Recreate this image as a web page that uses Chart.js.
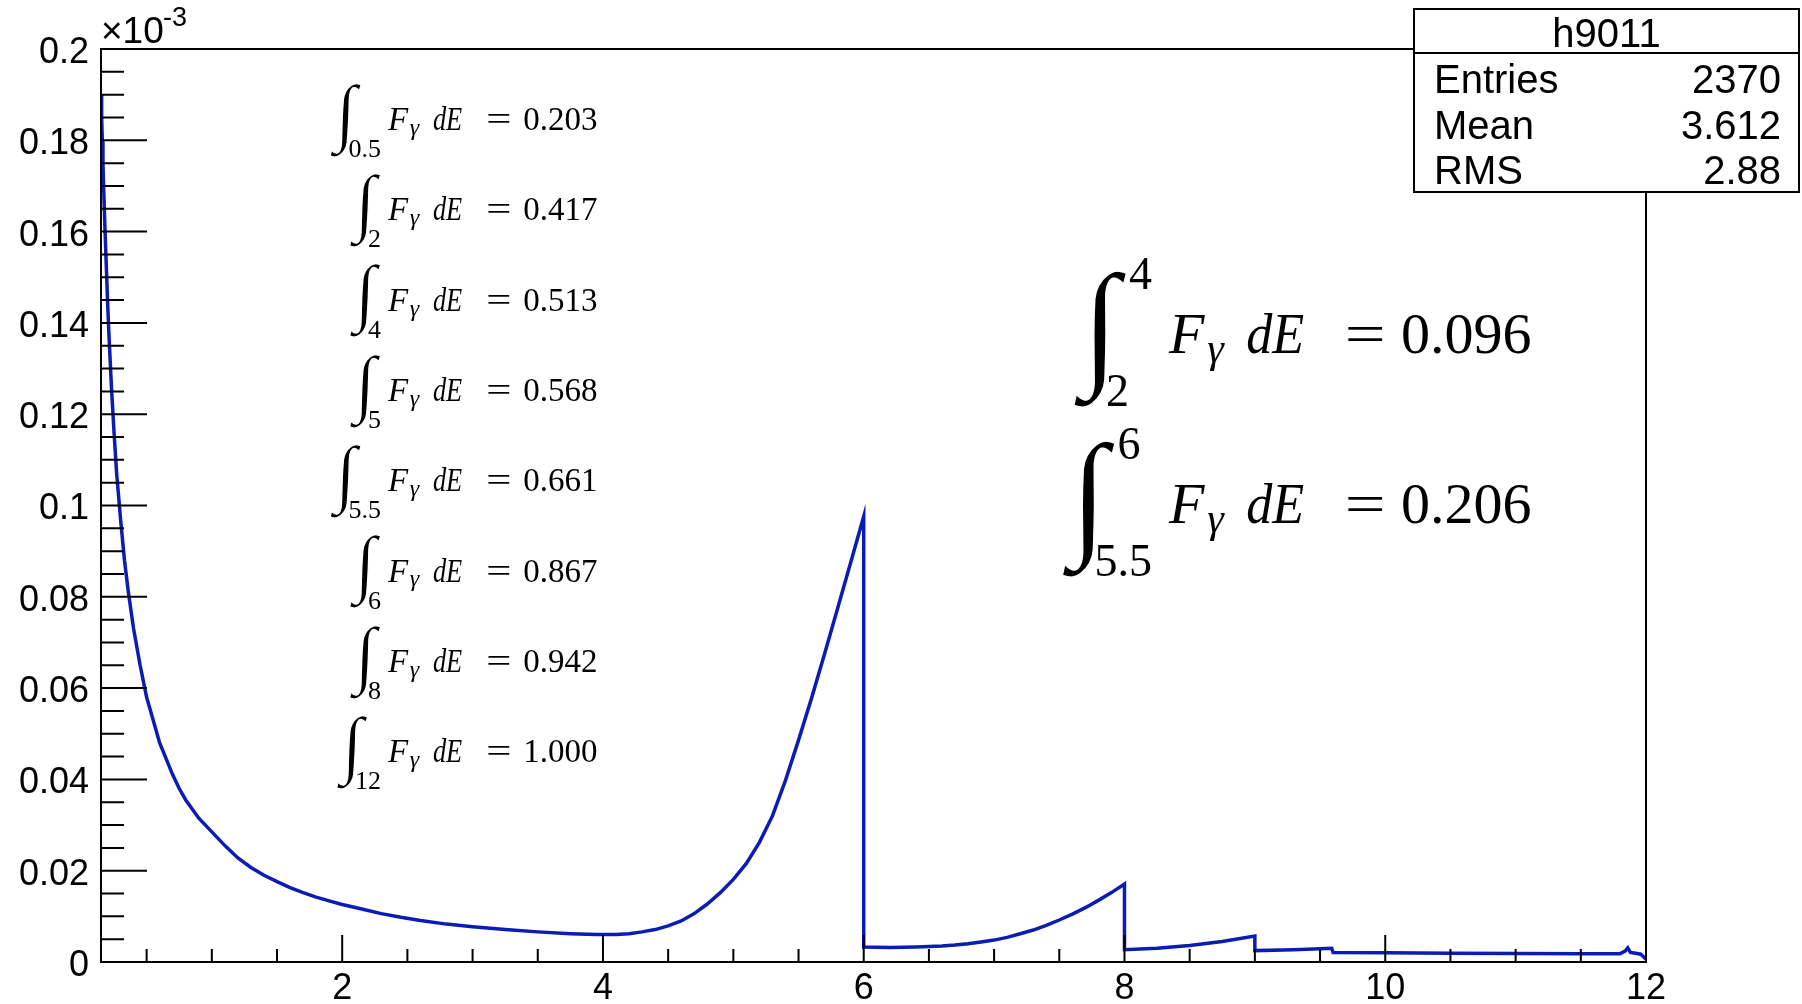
<!DOCTYPE html>
<html>
<head>
<meta charset="utf-8">
<title>h9011</title>
<script src="https://cdn.jsdelivr.net/npm/chart.js@4.4.1/dist/chart.umd.min.js"></script>
<style>
  html, body { margin: 0; padding: 0; background: #fff; }
  #wrap { width: 1802px; height: 1004px; }
</style>
</head>
<body>
<div id="wrap"><canvas id="spectrum" width="1802" height="1004"></canvas></div>
<script>
// photon spectrum h9011, flux in units of 1e-3
const energy = [0.15, 0.155, 0.16, 0.165, 0.17, 0.18, 0.19, 0.2, 0.21, 0.22, 0.23, 0.25, 0.27,
  0.3, 0.33, 0.36, 0.4, 0.45, 0.5, 0.55, 0.6, 0.65, 0.7, 0.75, 0.8, 0.9, 1.0, 1.1, 1.2, 1.3,
  1.4, 1.5, 1.6, 1.7, 1.8, 1.9, 2.0, 2.15, 2.3, 2.45, 2.6, 2.8, 3.0, 3.25, 3.5, 3.75, 3.95,
  4.1, 4.2, 4.3, 4.4, 4.5, 4.6, 4.7, 4.8, 4.9, 5.0, 5.1, 5.2, 5.3, 5.4, 5.5, 5.6, 5.7, 5.8, 5.9, 6.0,
  6.0, 6.2, 6.4, 6.6, 6.7, 6.8, 6.9, 7.0, 7.1, 7.2, 7.3, 7.4, 7.5, 7.6, 7.7, 7.8, 7.9, 8.0,
  8.0, 8.25, 8.5, 8.75, 9.0,
  9.0, 9.3, 9.59, 9.6, 10.0, 10.5, 11.0, 11.5, 11.8, 11.84, 11.86, 11.88, 11.92, 11.96, 11.99, 12.0];
const flux = [0.190, 0.185, 0.180, 0.175, 0.170, 0.161, 0.153, 0.145, 0.138, 0.132, 0.126, 0.116, 0.107,
  0.097, 0.088, 0.081, 0.073, 0.065, 0.058, 0.053, 0.048, 0.0445, 0.041, 0.038, 0.0355, 0.0315, 0.0285, 0.0255, 0.0228, 0.0207,
  0.019, 0.0176, 0.0163, 0.0152, 0.0142, 0.0134, 0.0126, 0.0116, 0.0106, 0.0098, 0.0091, 0.0083, 0.0077, 0.0071, 0.0066, 0.0062, 0.006,
  0.006, 0.0062, 0.0066, 0.0071, 0.0079, 0.009, 0.0106, 0.0127, 0.0152, 0.0181, 0.0216, 0.0262, 0.0320, 0.0398, 0.0486, 0.0578, 0.0675, 0.0775, 0.0875, 0.0976,
  0.0033, 0.0032, 0.0033, 0.0035, 0.0037, 0.0040, 0.0044, 0.0048, 0.0054, 0.0062, 0.0070, 0.0080, 0.0092, 0.0105, 0.0119, 0.0135, 0.0152, 0.0171,
  0.0027, 0.0030, 0.0036, 0.0045, 0.0057,
  0.0025, 0.0027, 0.0030, 0.0021, 0.0020, 0.0019, 0.00185, 0.0018, 0.0018, 0.0024, 0.0031, 0.0021, 0.0019, 0.0017, 0.0009, 0.0006];

const xTicks = [2, 4, 6, 8, 10, 12];
const yTicks = [0, 0.02, 0.04, 0.06, 0.08, 0.1, 0.12, 0.14, 0.16, 0.18, 0.2];

const statsTitle = 'h9011';
const statsNames = ['Entries', 'Mean', 'RMS'];
const statsValues = ['2370', '3.612', '2.88'];

// cumulative integrals (left column) and the two range integrals (right)
const cumLower = ['0.5', '2', '4', '5', '5.5', '6', '8', '12'];
const cumValues = ['0.203', '0.417', '0.513', '0.568', '0.661', '0.867', '0.942', '1.000'];
const rangeLower = ['2', '5.5'];
const rangeUpper = ['4', '6'];
const rangeValues = ['0.096', '0.206'];

const SANS = '"Liberation Sans", Arial, sans-serif';
const SERIF = '"Liberation Serif", "DejaVu Serif", serif';

// integral sign: scaled to the wanted height, then slanted to the wanted width
function drawIntegral(ctx, left, top, bottom, width) {
  ctx.save();
  ctx.font = '100px ' + SERIF;
  ctx.textAlign = 'left';
  ctx.textBaseline = 'alphabetic';
  const m = ctx.measureText('\u222B');
  const inkW = m.actualBoundingBoxLeft + m.actualBoundingBoxRight;
  const inkH = m.actualBoundingBoxAscent + m.actualBoundingBoxDescent;
  const h = bottom - top;
  const s = h / inkH;
  const k = Math.max(0, (width - inkW * s) / h);
  // the skew pivots on the top edge, so start right by the shift of the bottom
  ctx.translate(left + k * h, top);
  ctx.transform(1, 0, -k, 1, 0, 0);
  ctx.scale(s, s);
  ctx.fillText('\u222B', m.actualBoundingBoxLeft, m.actualBoundingBoxAscent);
  // thin the stroke a little, the original sign is lighter
  ctx.strokeStyle = '#fff';
  ctx.lineWidth = 1.2 / s;
  ctx.strokeText('\u222B', m.actualBoundingBoxLeft, m.actualBoundingBoxAscent);
  ctx.restore();
}

// F_gamma dE = value, laid out in em offsets from the F
function drawFlux(ctx, x0, base, size, value, s) {
  ctx.textAlign = 'left';
  ctx.font = 'italic ' + size + 'px ' + SERIF;
  ctx.fillText('F', x0, base);
  ctx.save();
  ctx.translate(x0 + s.d * size, base);
  ctx.scale(s.dE, 1);
  ctx.fillText('dE', 0, 0);
  ctx.restore();
  ctx.font = 'italic ' + Math.round(size * 0.72) + 'px ' + SERIF;
  ctx.fillText('\u03B3', x0 + 0.66 * size, base + 0.15 * size);
  ctx.font = size + 'px ' + SERIF;
  ctx.save();
  ctx.translate(x0 + s.eq * size, base);
  ctx.scale(s.eqW, 1);
  ctx.fillText('=', 0, 0);
  ctx.restore();
  ctx.fillText(value, x0 + s.val * size, base);
}

const overlay = {
  id: 'overlay',
  afterDatasetsDraw(chart) {
    const {ctx, chartArea: a, scales: {x, y}} = chart;
    ctx.save();
    ctx.strokeStyle = '#000';
    ctx.lineWidth = 2;
    ctx.strokeRect(a.left, a.top, a.right - a.left, a.bottom - a.top);
    ctx.beginPath();
    for (let i = 1; i * 0.5 <= x.max; i++) {
      const v = i * 0.5;
      const px = x.getPixelForValue(v);
      const len = xTicks.includes(v) ? 27 : 13;
      ctx.moveTo(px, a.bottom);
      ctx.lineTo(px, a.bottom - len);
    }
    for (let i = 1; i < 40; i++) {
      const py = y.getPixelForValue(i * 0.005);
      const len = i % 4 === 0 ? 46 : 23;
      ctx.moveTo(a.left, py);
      ctx.lineTo(a.left + len, py);
    }
    ctx.stroke();
    ctx.restore();
  },
  afterDraw(chart) {
    const {ctx, chartArea: a} = chart;
    ctx.save();
    ctx.fillStyle = '#000';
    ctx.textBaseline = 'alphabetic';

    // axis exponent
    ctx.textAlign = 'left';
    ctx.font = '37px ' + SANS;
    ctx.fillText('\u00D710', a.left, 43);
    ctx.font = '27px ' + SANS;
    ctx.fillText('-3', a.left + 62, 26);

    // stats box
    const bx = 1414, by = 9, bw = 385, bh = 183;
    ctx.fillStyle = '#fff';
    ctx.fillRect(bx, by, bw, bh);
    ctx.strokeStyle = '#000';
    ctx.lineWidth = 2;
    ctx.strokeRect(bx, by, bw, bh);
    ctx.beginPath();
    ctx.moveTo(bx, 53);
    ctx.lineTo(bx + bw, 53);
    ctx.stroke();
    ctx.fillStyle = '#000';
    ctx.font = '40px ' + SANS;
    ctx.textAlign = 'center';
    ctx.fillText(statsTitle, bx + bw / 2, 47);
    statsNames.forEach((name, i) => {
      const base = 93 + i * 45.5;
      ctx.textAlign = 'left';
      ctx.fillText(name, 1434, base);
      ctx.textAlign = 'right';
      ctx.fillText(statsValues[i], 1781, base);
    });

    // cumulative integrals
    const small = {d: 1.36, dE: 0.8, eq: 2.98, eqW: 1.35, val: 4.1};
    cumLower.forEach((lo, i) => {
      const base = 130 + i * 90.3;
      ctx.font = '26px ' + SERIF;
      ctx.textAlign = 'left';
      const w = ctx.measureText(lo).width;
      const subLeft = 381 - w;
      drawIntegral(ctx, subLeft - 19, base - 47, base + 27, 32);
      ctx.fillText(lo, subLeft, base + 27);
      drawFlux(ctx, 388, base, 33, cumValues[i], small);
    });

    // range integrals
    const large = {d: 1.33, dE: 0.9, eq: 3.03, eqW: 1.25, val: 4.0};
    rangeValues.forEach((val, i) => {
      const base = 353 + i * 170;
      ctx.font = '46px ' + SERIF;
      ctx.textAlign = 'left';
      const upW = ctx.measureText(rangeUpper[i]).width;
      const loW = ctx.measureText(rangeLower[i]).width;
      const left = Math.min(1152 - upW - 56, 1152 - loW - 33);
      drawIntegral(ctx, left, base - 83, base + 54, 48);
      ctx.fillText(rangeUpper[i], left + 56, base - 64);
      ctx.fillText(rangeLower[i], left + 33, base + 53);
      drawFlux(ctx, 1169, base, 58, val, large);
    });
    ctx.restore();
  }
};

new Chart(document.getElementById('spectrum'), {
  type: 'scatter',
  data: {
    datasets: [{
      data: energy.map((e, i) => ({x: e, y: flux[i]})),
      showLine: true,
      borderColor: '#0a1cb2',
      borderWidth: 3.5,
      pointRadius: 0,
      tension: 0,
      fill: false
    }]
  },
  options: {
    responsive: false,
    animation: false,
    devicePixelRatio: 1,
    layout: {padding: {top: 49, right: 156, left: 0, bottom: 0}},
    plugins: {legend: {display: false}, tooltip: {enabled: false}},
    scales: {
      x: {
        type: 'linear', min: 0.15, max: 12,
        afterFit: s => { s.height = 42; },
        afterBuildTicks: s => { s.ticks = xTicks.map(v => ({value: v})); },
        grid: {display: false},
        border: {display: false},
        ticks: {font: {family: SANS, size: 36}, color: '#000', padding: -3,
          maxRotation: 0, autoSkip: false, callback: v => String(v)}
      },
      y: {
        type: 'linear', min: 0, max: 0.2,
        afterFit: s => { s.width = 101; },
        afterBuildTicks: s => { s.ticks = yTicks.map(v => ({value: v})); },
        grid: {display: false},
        border: {display: false},
        ticks: {font: {family: SANS, size: 36}, color: '#000', padding: 4, labelOffset: 4,
          autoSkip: false, callback: v => String(v)}
      }
    }
  },
  plugins: [overlay]
});
</script>
</body>
</html>
